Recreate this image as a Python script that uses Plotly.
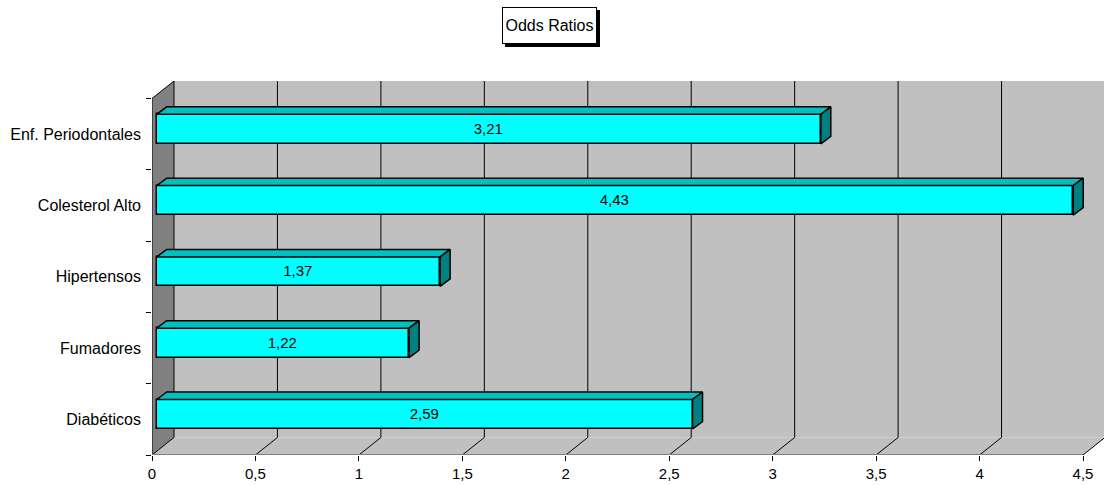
import plotly.graph_objects as go

# Data
categories = ["Diabéticos", "Fumadores", "Hipertensos", "Colesterol Alto", "Enf. Periodontales"]
odds_ratios = [2.59, 1.22, 1.37, 4.43, 3.21]
x_tick_values = [0, 0.5, 1, 1.5, 2, 2.5, 3, 3.5, 4, 4.5]
x_tick_labels = ["0", "0,5", "1", "1,5", "2", "2,5", "3", "3,5", "4", "4,5"]
title_text = "Odds Ratios"

FONT = "Liberation Sans, Arial, sans-serif"

# Pseudo-3D geometry (data units)
X_MAX = 4.5
DDX, DDY = 0.1063, 0.2458          # depth of the wall/floor box
Y_LO, Y_HI = -0.5, 4.5             # front plane category extent
Y_TOP = Y_HI + DDY
FX = 0.0227                        # bar front-face offset along value axis
YOFF = 0.0715                      # bar front-face offset along category axis
HALF = 0.207                       # half bar height
BDX, BDY = 0.0483, 0.105           # bar depth

fig = go.Figure()

# Front face of each bar
ypos = [i + YOFF for i in range(len(categories))]
fig.add_trace(go.Bar(
    y=ypos, x=odds_ratios, base=[FX] * len(odds_ratios), orientation="h",
    width=2 * HALF,
    marker=dict(color="#00FFFF", line=dict(color="black", width=1.5)),
    texttemplate="%{x:.2f}", textposition="inside", insidetextanchor="middle",
    textangle=0, textfont=dict(family=FONT, size=15, color="black"),
    hoverinfo="skip", showlegend=False,
))

# Top and side faces
for yc, v in zip(ypos, odds_ratios):
    x0, x1 = FX, FX + v
    top_x = [x0, x1, x1 + BDX, x0 + BDX, x0]
    top_y = [yc + HALF, yc + HALF, yc + HALF + BDY, yc + HALF + BDY, yc + HALF]
    fig.add_trace(go.Scatter(
        x=top_x, y=top_y, mode="lines", fill="toself", fillcolor="#00C0C0",
        line=dict(color="black", width=1.5), hoverinfo="skip", showlegend=False,
    ))
    side_x = [x1, x1, x1 + BDX, x1 + BDX, x1]
    side_y = [yc - HALF, yc + HALF, yc + HALF + BDY, yc - HALF + BDY, yc - HALF]
    fig.add_trace(go.Scatter(
        x=side_x, y=side_y, mode="lines", fill="toself", fillcolor="#008080",
        line=dict(color="black", width=1.5), hoverinfo="skip", showlegend=False,
    ))

shapes = []
# Back wall
shapes.append(dict(type="rect", xref="x", yref="y", x0=DDX, x1=X_MAX + DDX,
                   y0=Y_LO + DDY, y1=Y_TOP, fillcolor="#C0C0C0",
                   line=dict(width=0), layer="below"))
# Floor
shapes.append(dict(type="path", xref="x", yref="y",
                   path=f"M0,{Y_LO} L{X_MAX},{Y_LO} L{X_MAX + DDX},{Y_LO + DDY} L{DDX},{Y_LO + DDY} Z",
                   fillcolor="#C0C0C0", line=dict(width=0), layer="below"))
# Left wall
shapes.append(dict(type="path", xref="x", yref="y",
                   path=f"M0,{Y_LO} L0,{Y_HI} L{DDX},{Y_TOP} L{DDX},{Y_LO + DDY} Z",
                   fillcolor="#808080", line=dict(width=0), layer="below"))
# Gridlines: along the floor then up the back wall
for v in x_tick_values:
    shapes.append(dict(type="path", xref="x", yref="y",
                       path=f"M{v},{Y_LO} L{v + DDX},{Y_LO + DDY} L{v + DDX},{Y_TOP}",
                       line=dict(color="black", width=1), layer="below"))
# Left wall top edge and front edge
shapes.append(dict(type="line", xref="x", yref="y", x0=0, y0=Y_HI, x1=DDX, y1=Y_TOP,
                   line=dict(color="black", width=1), layer="below"))
shapes.append(dict(type="line", xref="x", yref="y", x0=0, y0=Y_LO, x1=0, y1=Y_HI,
                   line=dict(color="black", width=1), layer="below"))
# Floor front edge
shapes.append(dict(type="line", xref="x", yref="y", x0=0, y0=Y_LO, x1=X_MAX, y1=Y_LO,
                   line=dict(color="#808080", width=2), layer="below"))

# Title box shadow (pixel positions converted to paper coordinates)
W, H = 1104, 485
ML, MR, MT, MB = 152, 0, 81, 30
PW, PH = W - ML - MR, H - MT - MB


def px_x(p):
    return (p - ML) / PW


def px_y(p):
    return (H - MB - p) / PH


shapes.append(dict(type="rect", xref="paper", yref="paper",
                   x0=px_x(505), x1=px_x(600), y0=px_y(47), y1=px_y(10),
                   fillcolor="black", line=dict(width=0), layer="above"))

fig.update_layout(
    width=W, height=H,
    margin=dict(l=ML, r=MR, t=MT, b=MB, pad=0),
    paper_bgcolor="white", plot_bgcolor="white",
    separators=",.",
    font=dict(family=FONT, size=15, color="black"),
    shapes=shapes,
    bargap=0,
    annotations=[dict(
        text=title_text, xref="paper", yref="paper",
        x=px_x(549.5), y=px_y(25.5), xanchor="center", yanchor="middle",
        showarrow=False, bgcolor="white", bordercolor="black", borderwidth=1,
        borderpad=2, width=89, height=31,
        font=dict(family=FONT, size=16, color="black"),
    )],
    xaxis=dict(
        range=[0, PW / ((1083 - 152) / 4.5)],
        tickvals=x_tick_values, ticktext=x_tick_labels,
        ticks="outside", ticklen=5, tickcolor="black", tickwidth=1,
        showgrid=False, zeroline=False, showline=False, fixedrange=True,
        tickfont=dict(family=FONT, size=15, color="black"),
    ),
    yaxis=dict(
        range=[Y_LO, Y_TOP],
        tickvals=list(range(len(categories))), ticktext=categories,
        ticks="", showgrid=False, zeroline=False, showline=False, fixedrange=True,
        ticklabelstandoff=10,
        minor=dict(tickvals=[-0.5, 0.5, 1.5, 2.5, 3.5, 4.5], ticks="outside",
                   ticklen=5, tickcolor="black", tickwidth=1, showgrid=False),
        tickfont=dict(family=FONT, size=16, color="black"),
    ),
)

fig.write_html("out.html")
